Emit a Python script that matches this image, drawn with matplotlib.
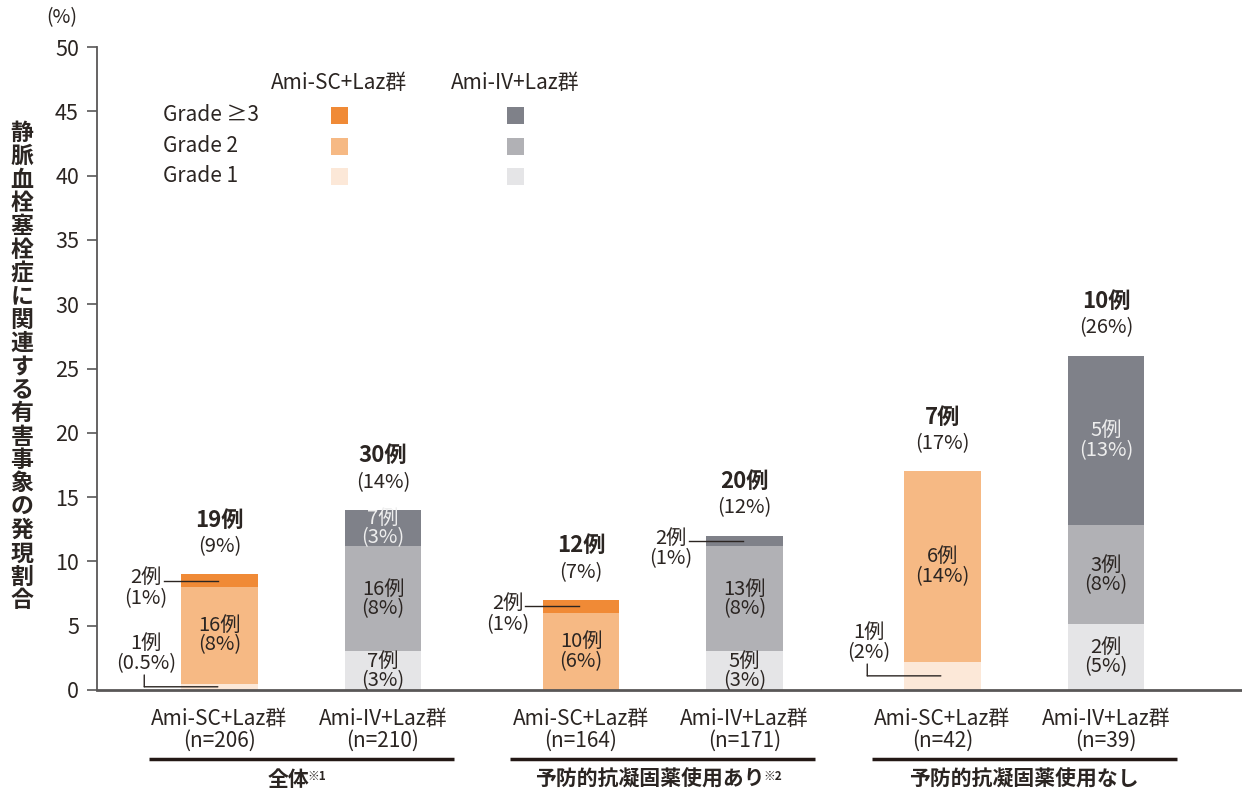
import matplotlib
matplotlib.use('Agg')
import matplotlib.pyplot as plt
from matplotlib.patches import Rectangle
from matplotlib.transforms import blended_transform_factory

plt.rcParams['font.family'] = ['Noto Sans CJK JP', 'DejaVu Sans']

# data (% of patients)
groups = ['全体', '予防的抗凝固薬使用あり', '予防的抗凝固薬使用なし']
group_notes = ['※1', '※2', '']
arms = ['Ami-SC+Laz群', 'Ami-IV+Laz群']
n_pat = [206, 210, 164, 171, 42, 39]
grade1 = [0.5, 3.0, 0.0, 3.0, 2.2, 5.1]
grade2 = [7.5, 8.2, 6.0, 8.2, 14.8, 7.7]
grade3 = [1.0, 2.8, 1.0, 0.8, 0.0, 13.2]
grade1_lbl = ['1例\n(0.5%)', '7例\n(3%)', '', '5例\n(3%)', '1例\n(2%)', '2例\n(5%)']
grade2_lbl = ['16例\n(8%)', '16例\n(8%)', '10例\n(6%)', '13例\n(8%)', '6例\n(14%)', '3例\n(8%)']
grade3_lbl = ['2例\n(1%)', '7例\n(3%)', '2例\n(1%)', '2例\n(1%)', '', '5例\n(13%)']
total_cases = [19, 30, 12, 20, 7, 10]
total_pct = [9, 14, 7, 12, 17, 26]

# colours
sc_cols = ['#fce8d8', '#f6b984', '#f08a36']
iv_cols = ['#e5e5e7', '#b1b1b5', '#7f8189']
txt = '#2b2522'
axis_col = '#595757'

W, H = 1242, 792


def fx(px):
    return px / W


def fy(py):
    return 1 - py / H


fig = plt.figure(figsize=(W / 100, H / 100), dpi=100)
ax = fig.add_axes([fx(97), fy(690), fx(W - 97), 643 / H])

# bar positions: pairs within three groups
group_step = 2.211
pos = []
for g in range(len(groups)):
    pos += [g * group_step, g * group_step + 1]
bw = 0.47
fs_lbl = 14.5

for i, x in enumerate(pos):
    cols = sc_cols if i % 2 == 0 else iv_cols
    bottom = 0
    for k, (vals, lbls) in enumerate([(grade1, grade1_lbl), (grade2, grade2_lbl), (grade3, grade3_lbl)]):
        v = vals[i]
        if v > 0:
            ax.bar(x, v, bottom=bottom, width=bw, color=cols[k], linewidth=0)
        lbl = lbls[i]
        mid = bottom + v / 2
        if lbl:
            top_l, bot_l = lbl.split('\n')
            if v >= 2.5:
                c = '#eeeeee' if (k == 2 and i % 2 == 1) else txt
                ax.annotate(top_l, (x, mid), xytext=(0, 7), textcoords='offset points',
                            ha='center', va='center', fontsize=fs_lbl, color=c)
                ax.annotate(bot_l, (x, mid), xytext=(0, -7), textcoords='offset points',
                            ha='center', va='center', fontsize=fs_lbl, color=c)
            elif k == 2:
                # leader line to the left
                ax.plot([x - 0.34, x - 0.01], [mid, mid], color=txt, lw=1)
                ax.annotate(top_l, (x - 0.45, mid), xytext=(0, 2), textcoords='offset points',
                            ha='center', va='center', fontsize=fs_lbl, color=txt)
                ax.annotate(bot_l, (x - 0.45, mid), xytext=(0, -13), textcoords='offset points',
                            ha='center', va='center', fontsize=fs_lbl, color=txt)
            else:
                # bracket below the label
                x0 = x - 0.46
                ax.annotate('', (x - 0.01, mid), xytext=(x0, mid),
                            arrowprops=dict(arrowstyle='-', color=txt, lw=1, shrinkA=0, shrinkB=0))
                ax.annotate('', (x0, mid), xytext=(0, 8.5), textcoords='offset points',
                            arrowprops=dict(arrowstyle='-', color=txt, lw=1, shrinkA=0, shrinkB=0))
                ax.annotate(bot_l, (x0 + 0.01, mid), xytext=(0, 17), textcoords='offset points',
                            ha='center', va='center', fontsize=fs_lbl, color=txt)
                ax.annotate(top_l, (x0 + 0.01, mid), xytext=(0, 31), textcoords='offset points',
                            ha='center', va='center', fontsize=fs_lbl, color=txt)
        bottom += v
    ax.annotate(f'({total_pct[i]}%)', (x, bottom), xytext=(0, 20), textcoords='offset points',
                ha='center', va='center', fontsize=14.5, color=txt)
    ax.annotate(f'{total_cases[i]}例', (x, bottom), xytext=(0, 39), textcoords='offset points',
                ha='center', va='center', fontsize=16, fontweight='bold', color=txt)

ax.set_xlim(-0.749, 6.254)
ax.set_ylim(0, 50)
ax.set_yticks(range(0, 51, 5))
ax.set_xticks([])
ax.tick_params(axis='y', length=7, width=1.2, color=axis_col, pad=6, labelsize=15.5, labelcolor=txt)
for s in ['top', 'right']:
    ax.spines[s].set_visible(False)
ax.spines['left'].set_color(axis_col)
ax.spines['left'].set_linewidth(1.3)
ax.spines['bottom'].set_color(axis_col)
ax.spines['bottom'].set_linewidth(2)

# x category labels and group labels
bt = blended_transform_factory(ax.transData, fig.transFigure)
for i, x in enumerate(pos):
    ax.text(x, fy(719), arms[i % 2], transform=bt, ha='center', va='center', fontsize=15, color=txt)
    ax.text(x, fy(741), f'(n={n_pat[i]})', transform=bt, ha='center', va='center', fontsize=15, color=txt)
for g, name in enumerate(groups):
    mid = g * group_step + 0.5
    ax.plot([mid - 0.933, mid + 0.933], [fy(759), fy(759)], transform=bt, color='#231815',
            lw=2.5, clip_on=False, solid_capstyle='butt')
    shift = -0.08 if group_notes[g] else 0
    t = ax.text(mid + shift, fy(779), name, transform=bt, ha='center', va='center',
                fontsize=15, fontweight='bold', color=txt)
    if group_notes[g]:
        ax.annotate(group_notes[g], (1, 1), xycoords=t, xytext=(-1, -1), textcoords='offset points',
                    ha='left', va='top', fontsize=8.5, fontweight='bold', color=txt)

# y label (vertical stacked characters)
ylab = '静脈血栓塞栓症に関連する有害事象の発現割合'
fig.text(fx(22), fy(367), '\n'.join(ylab), ha='center', va='center', fontsize=16.5,
         fontweight='bold', color=txt, linespacing=1.02)
fig.text(fx(62), fy(18), '(%)', ha='center', va='center', fontsize=14, color=txt)

# legend drawn by hand
grade_names = ['Grade ≥3', 'Grade 2', 'Grade 1']
row_y = [115, 146, 176]
fig.text(fx(339), fy(83), arms[0], ha='center', va='center', fontsize=15, color=txt)
fig.text(fx(515), fy(83), arms[1], ha='center', va='center', fontsize=15, color=txt)
for r, gname in enumerate(grade_names):
    fig.text(fx(163), fy(row_y[r]), gname, ha='left', va='center', fontsize=15, color=txt)
    for cx, cols in [(339, sc_cols), (515, iv_cols)]:
        fig.add_artist(Rectangle((fx(cx - 8.5), fy(row_y[r] + 8.5)), fx(17), 17 / H,
                                 transform=fig.transFigure, color=cols[2 - r], lw=0))

fig.savefig('out.png', dpi=100)
